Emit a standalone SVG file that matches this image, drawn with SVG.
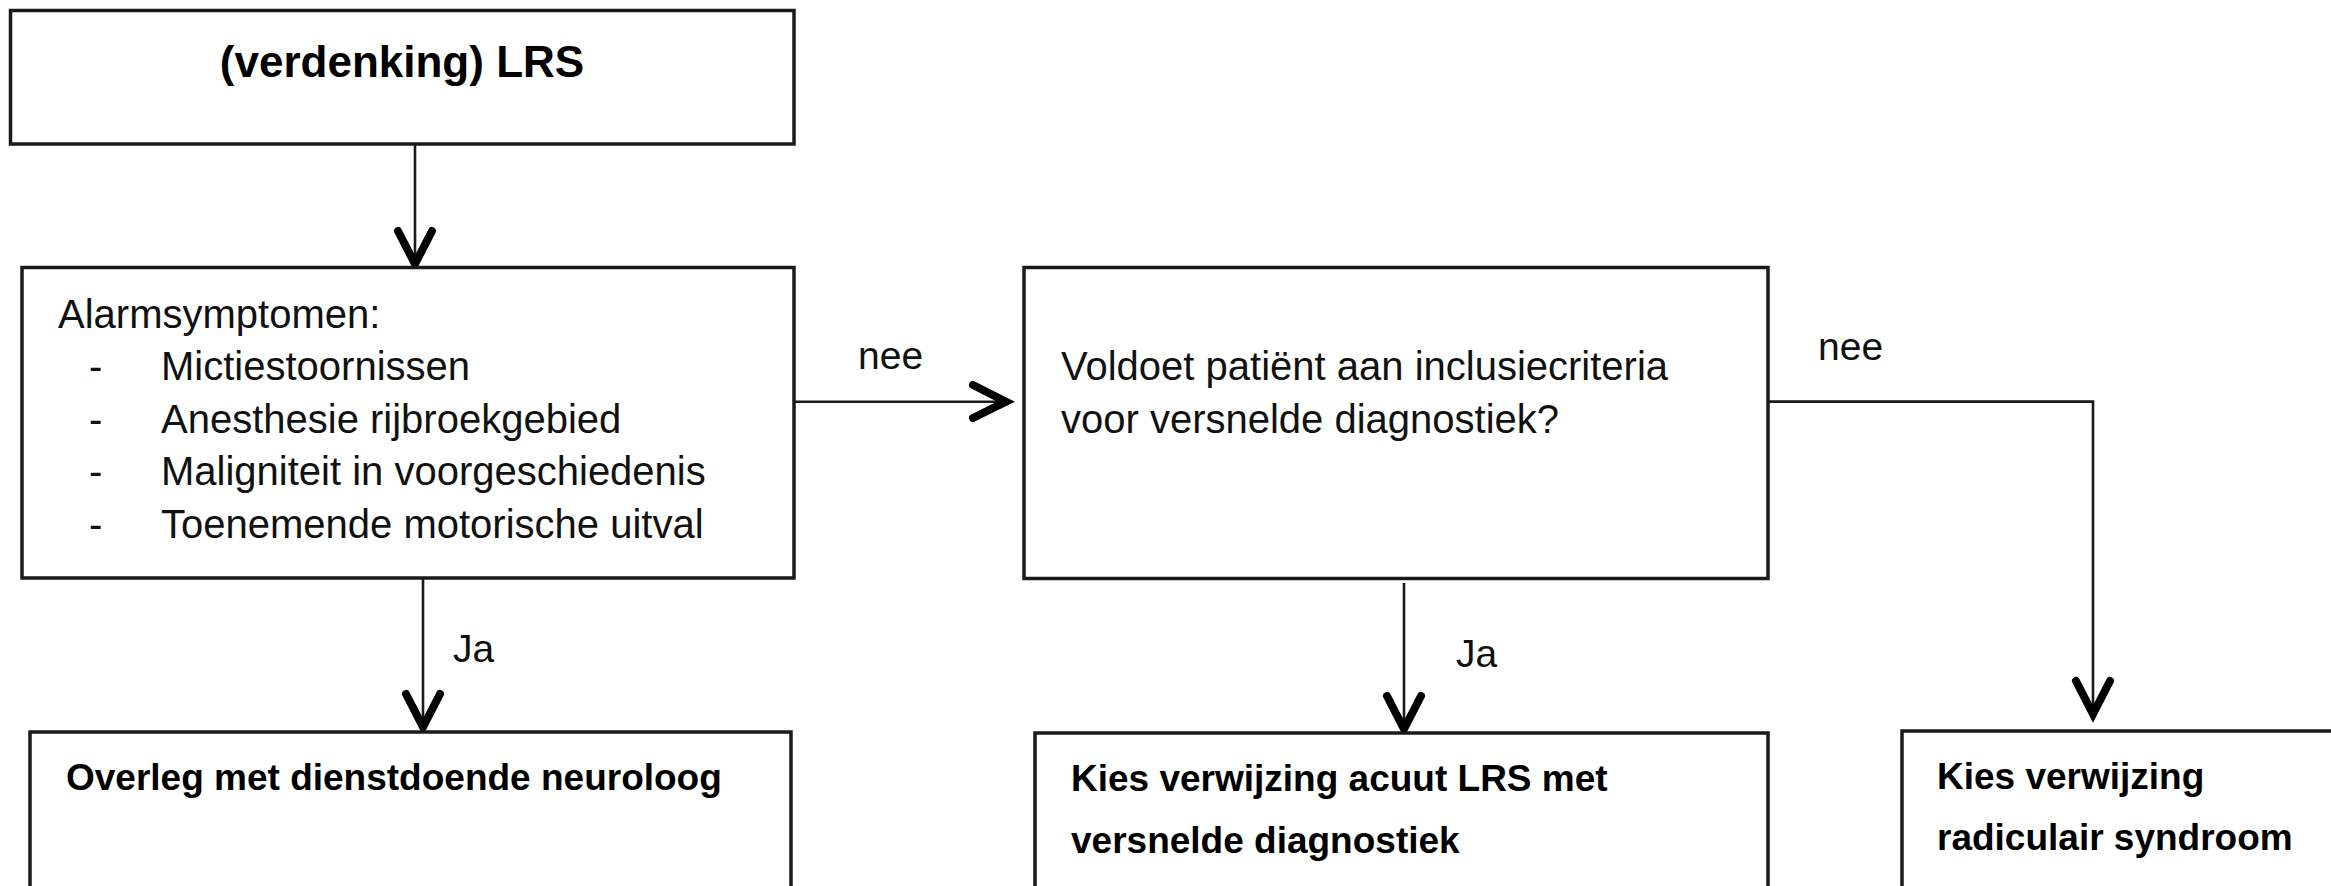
<svg xmlns="http://www.w3.org/2000/svg" width="2331" height="886" viewBox="0 0 2331 886">
<style>
.box{fill:#fff;stroke:#1a1a1a;stroke-width:3.5}
.ln{fill:none;stroke:#1a1a1a;stroke-width:2.6}
.hd{fill:none;stroke:#000;stroke-width:8;stroke-linecap:round;stroke-linejoin:miter}
.t{font-family:"Liberation Sans",Arial,sans-serif;font-size:40px;fill:#111}
.b{font-family:"Liberation Sans",Arial,sans-serif;font-size:37px;font-weight:bold;fill:#000}
.lb{font-family:"Liberation Sans",Arial,sans-serif;font-size:39px;fill:#111}
</style>
<rect width="2331" height="886" fill="#fff"/>
<g id="connectors">
<path class="ln" d="M415,144 V262"/>
<path class="hd" d="M398,231 L415,264 L432,231"/>
<path class="ln" d="M794,401.7 H1004"/>
<path class="hd" d="M973,385 L1006,401.7 L973,418"/>
<path class="ln" d="M423,578 V725"/>
<path class="hd" d="M406,694 L423,727 L440,694"/>
<path class="ln" d="M1404,583 V727"/>
<path class="hd" d="M1387,696 L1404,729 L1421,696"/>
<path class="ln" d="M1768,401.6 H2093 V712"/>
<path class="hd" d="M2076,681 L2093,714 L2110,681"/>
<text class="lb" x="858" y="369">nee</text>
<text class="lb" x="453" y="662">Ja</text>
<text class="lb" x="1456" y="667">Ja</text>
<text class="lb" x="1818" y="360">nee</text>
</g>
<g id="node-lrs">
<rect class="box" x="10.5" y="10.5" width="783.5" height="133.5"/>
<text class="b" x="402" y="77" text-anchor="middle" style="font-size:44px">(verdenking) LRS</text>
</g>
<g id="node-alarm">
<rect class="box" x="22" y="267.5" width="772" height="310.5"/>
<text class="t" x="58" y="328">Alarmsymptomen:</text>
<text class="t" x="89" y="380">-</text>
<text class="t" x="161" y="380">Mictiestoornissen</text>
<text class="t" x="89" y="432.5">-</text>
<text class="t" x="161" y="432.5">Anesthesie rijbroekgebied</text>
<text class="t" x="89" y="485">-</text>
<text class="t" x="161" y="485">Maligniteit in voorgeschiedenis</text>
<text class="t" x="89" y="537.5">-</text>
<text class="t" x="161" y="537.5">Toenemende motorische uitval</text>
</g>
<g id="node-criteria">
<rect class="box" x="1024" y="267.5" width="744" height="311"/>
<text class="t" x="1061" y="380">Voldoet patiënt aan inclusiecriteria</text>
<text class="t" x="1061" y="432.5">voor versnelde diagnostiek?</text>
</g>
<g id="node-neuroloog">
<rect class="box" x="30" y="732" width="761" height="200"/>
<text class="b" x="66" y="790">Overleg met dienstdoende neuroloog</text>
</g>
<g id="node-acuut">
<rect class="box" x="1035" y="733" width="733" height="200"/>
<text class="b" x="1071" y="791">Kies verwijzing acuut LRS met</text>
<text class="b" x="1071" y="853">versnelde diagnostiek</text>
</g>
<g id="node-radiculair">
<rect class="box" x="1902" y="731" width="460" height="200"/>
<text class="b" x="1937" y="789">Kies verwijzing</text>
<text class="b" x="1937" y="850">radiculair syndroom</text>
</g>
</svg>
